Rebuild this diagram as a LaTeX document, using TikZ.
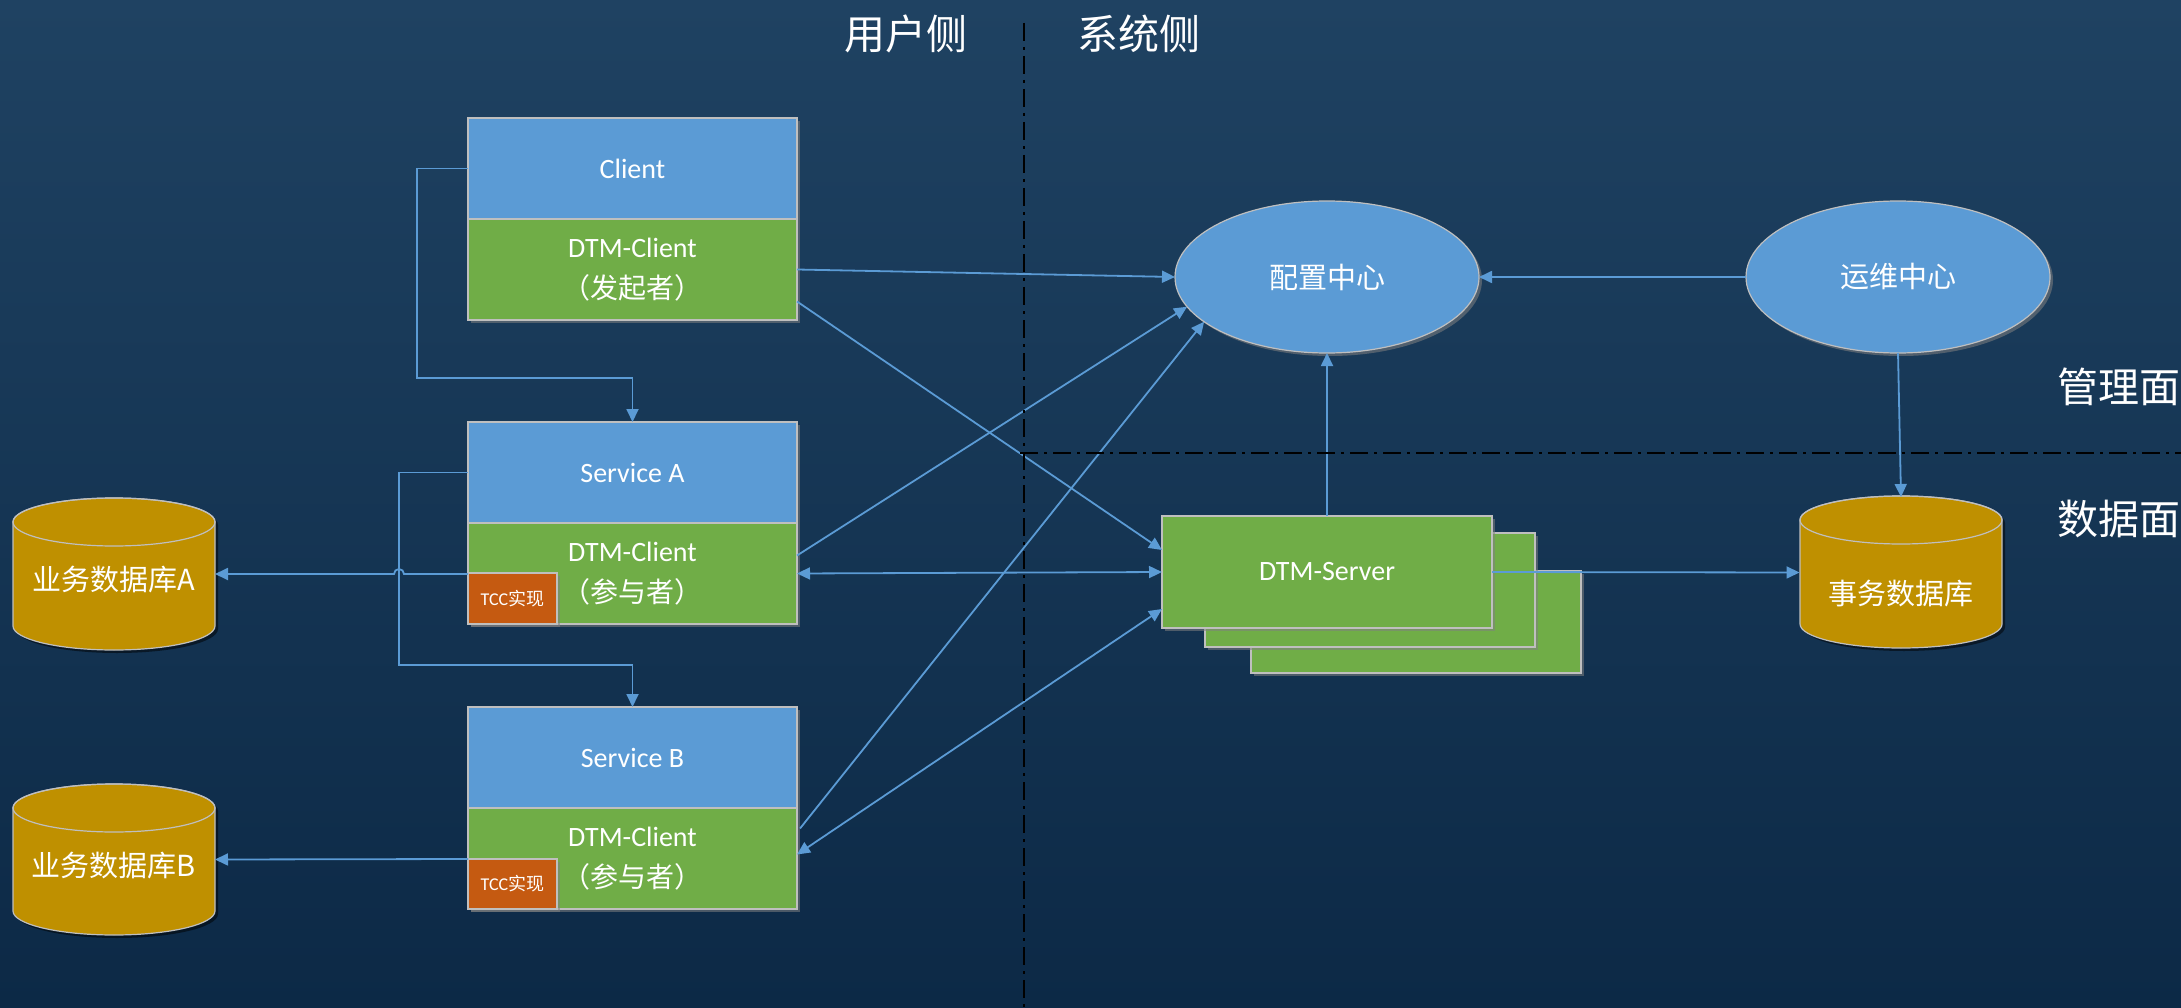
\documentclass[tikz,border=0pt]{standalone}
\usepackage{fontspec}
\setmainfont{Carlito}
\newfontfamily\cjk{Noto Sans CJK SC}
\usetikzlibrary{arrows.meta,shadows,shapes.geometric,calc}
\definecolor{bgtop}{HTML}{1F4262}
\definecolor{bgbot}{HTML}{0C2946}
\definecolor{sblue}{HTML}{5B9BD5}
\definecolor{sgreen}{HTML}{70AD47}
\definecolor{sorange}{HTML}{C55A11}
\definecolor{sgold}{HTML}{BF9000}
\definecolor{sedge}{HTML}{BFBFBF}
\definecolor{linec}{HTML}{5B9BD5}
\newcommand\dbcylinder[3]{%
  \fill[black, opacity=0.5, xshift=3pt, yshift=-3pt] (#1-101,#2) -- (#1-101,#3)
    arc[start angle=180, end angle=360, x radius=101pt, y radius=24pt] -- (#1+101,#2)
    arc[start angle=0, end angle=180, x radius=101pt, y radius=24pt] -- cycle;
  \filldraw[fill=sgold, draw=sedge, line width=1.2pt] (#1-101,#2) -- (#1-101,#3)
    arc[start angle=180, end angle=360, x radius=101pt, y radius=24pt] -- (#1+101,#2)
    arc[start angle=0, end angle=180, x radius=101pt, y radius=24pt] -- cycle;
  \draw[sedge, line width=1.2pt] (#1,#2) ellipse [x radius=101pt, y radius=24pt];
}
\begin{document}
\begin{tikzpicture}[x=1pt,y=-1pt,
  box/.style={rectangle, draw=sedge, line width=1.2pt, inner sep=0pt, outer sep=0pt,
    text=white, font=\fontsize{28}{41}\selectfont, align=center,
    drop shadow={shadow xshift=3pt, shadow yshift=-3pt, opacity=0.55}},
  bluebox/.style={box, fill=sblue, minimum width=329pt, minimum height=101pt},
  greenbox/.style={box, fill=sgreen, minimum width=329pt, minimum height=101pt},
  tccbox/.style={box, fill=sorange, font=\fontsize{18}{20}\selectfont, minimum width=89pt},
  srvbox/.style={box, fill=sgreen, minimum width=330pt},
  oval/.style={ellipse, draw=sedge, line width=1.2pt, fill=sblue, inner sep=0pt, outer sep=0pt,
    text=white, font=\cjk\fontsize{29}{32}\selectfont, minimum width=304pt, minimum height=152pt,
    drop shadow={shadow xshift=3pt, shadow yshift=-3pt, opacity=0.55}},
  arr/.style={draw=linec, line width=1.8pt, -{Triangle[length=13pt,width=12pt]}},
  biarr/.style={draw=linec, line width=1.8pt, {Triangle[length=13pt,width=12pt]}-{Triangle[length=13pt,width=12pt]}},
  sep/.style={draw=black, line width=2.5pt, dash pattern=on 18pt off 6pt on 3pt off 6pt},
  side/.style={text=white, font=\cjk\fontsize{41}{44}\selectfont, inner sep=0pt},
  dbtext/.style={text=white, font=\cjk\fontsize{29}{32}\selectfont, inner sep=0pt},
  ghost/.style={rectangle, inner sep=0pt, outer sep=0pt, draw=none}
]
\useasboundingbox (0,0) rectangle (2181,1008);
\fill[top color=bgtop, bottom color=bgbot] (0,0) rectangle (2181,1008);

% cylinders
\dbcylinder{114}{522}{626}
\dbcylinder{114}{808}{911}
\dbcylinder{1901}{520}{624}
\node[ghost, minimum width=202pt, minimum height=152pt] (dbA) at (114,574) {};
\node[ghost, minimum width=202pt, minimum height=151pt] (dbB) at (114,859.5) {};
\node[ghost, minimum width=203pt, minimum height=151pt] (txdb) at (1901,572.5) {};
\node[dbtext] (dbAtext) at (114,580) {业务数据库A};
\node[dbtext] (dbBtext) at (114,866) {业务数据库B};
\node[dbtext] (txdbtext) at (1901,594) {事务数据库};

% client side boxes
\node[bluebox] (clientTop) at (632.5,168.5) {Client};
\node[greenbox] (clientBot) at (632.5,269.5) {DTM-Client\\{\cjk （发起者）}};
\node[bluebox] (svcATop) at (632.5,472.5) {Service A};
\node[greenbox] (svcABot) at (632.5,573.5) {DTM-Client\\{\cjk （参与者）}};
\node[tccbox, minimum height=51pt] (tccA) at (512.5,598.5) {TCC{\cjk 实现}};
\node[bluebox] (svcBTop) at (632.5,757.5) {Service B};
\node[greenbox] (svcBBot) at (632.5,858.5) {DTM-Client\\{\cjk （参与者）}};
\node[tccbox, minimum height=50pt] (tccB) at (512.5,884) {TCC{\cjk 实现}};

% system side
\node[oval] (cfg) at (1327,277) {配置中心};
\node[oval] (ops) at (1898,277) {运维中心};
\node[srvbox, minimum height=102pt] (dtmBack) at (1416,622) {};
\node[srvbox, minimum height=114pt] (dtmMid) at (1370,590) {};
\node[srvbox, minimum height=112pt] (dtm) at (1327,572) {DTM-Server};

% connectors
\draw[arr] (clientTop.west) -- ++(-51,0) |- ([yshift=44pt]svcATop.north) -- (svcATop.north);
\draw[arr] (svcATop.west) -- ++(-69,0) |- ([yshift=42pt]svcBTop.north) -- (svcBTop.north);
\draw[arr] ([yshift=-1pt]tccA.north west) -- ++(-64,0)
  arc[start angle=0, end angle=180, radius=5pt] -- (dbA.east);
\draw[arr] (tccB.north west) -- (dbB.east);
\draw[arr] (clientBot.east) -- (cfg.west);
\draw[arr] ([yshift=-32pt]clientBot.east) -- ([yshift=22pt]dtm.west);
\draw[arr] ([yshift=18pt]svcABot.east) -- (cfg.192);
\draw[biarr] (svcABot.east) -- (dtm.west);
\draw[arr] ([xshift=3pt,yshift=30pt]svcBBot.east) -- (cfg.200);
\draw[biarr] ([yshift=-37pt]dtm.west) -- ([yshift=4pt]svcBBot.east);
\draw[arr] (dtm.north) -- (cfg.south);
\draw[arr] (ops.west) -- (cfg.east);
\draw[arr] (ops.south) -- (txdb.north);
\draw[arr] (dtm.east) -- (txdb.west);

% separators
\coordinate (vtop) at (1024,23);
\coordinate (vbot) at (1024,1008);
\coordinate (hl) at (1020,453);
\coordinate (hr) at (2181,453);
\draw[sep] (vtop) -- (vbot);
\draw[sep] (hl) -- (hr);

% labels
\node[side] (userside) at (906,34) {用户侧};
\node[side] (sysside) at (1139,34) {系统侧};
\node[side, anchor=west] (mgmt) at (2057,387) {管理面};
\node[side, anchor=west] (dataplane) at (2057,519) {数据面};
\end{tikzpicture}
\end{document}
